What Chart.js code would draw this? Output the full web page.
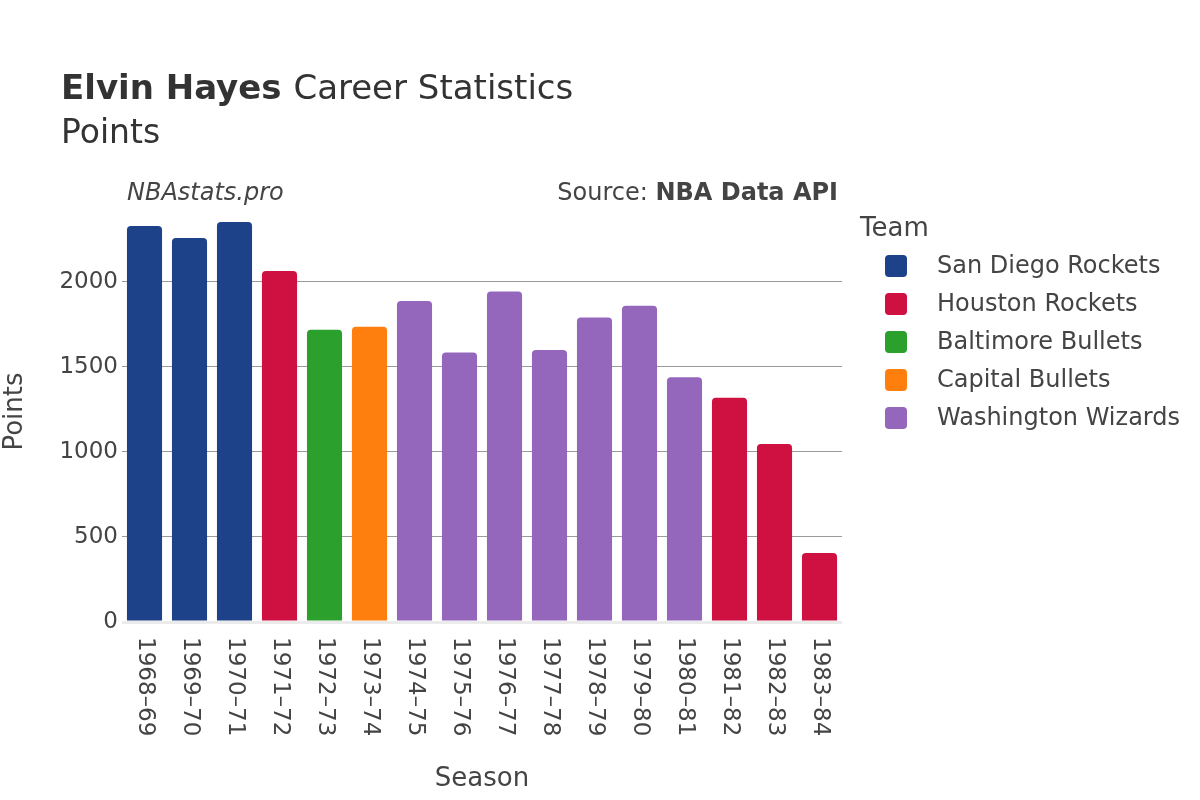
<!DOCTYPE html>
<html>
<head>
<meta charset="utf-8">
<script src="https://cdn.jsdelivr.net/npm/chart.js@4"></script>
<style>
  html, body { margin: 0; padding: 0; background: #fff; }
</style>
</head>
<body>
<canvas id="chart" width="1200" height="800"></canvas>
<script>
// season labels (x axis)
const seasons = ['1968–69', '1969–70', '1970–71', '1971–72', '1972–73', '1973–74', '1974–75', '1975–76',
                 '1976–77', '1977–78', '1978–79', '1979–80', '1980–81', '1981–82', '1982–83', '1983–84'];
// points per season
const points = [2327, 2256, 2350, 2063, 1717, 1735, 1887, 1584, 1942, 1598, 1789, 1859, 1439, 1318, 1046, 405];
// team for each season
const seasonTeams = ['San Diego Rockets', 'San Diego Rockets', 'San Diego Rockets', 'Houston Rockets',
                     'Baltimore Bullets', 'Capital Bullets', 'Washington Wizards', 'Washington Wizards',
                     'Washington Wizards', 'Washington Wizards', 'Washington Wizards', 'Washington Wizards',
                     'Washington Wizards', 'Houston Rockets', 'Houston Rockets', 'Houston Rockets'];
const teamNames = ['San Diego Rockets', 'Houston Rockets', 'Baltimore Bullets', 'Capital Bullets', 'Washington Wizards'];
const teamColors = ['#1d428a', '#ce1141', '#2ca02c', '#ff7f0e', '#9467bd'];
const yTicks = [0, 500, 1000, 1500, 2000];

const FONT = "'DejaVu Sans', sans-serif";
const TEXT = '#444';

const barColors = seasonTeams.map(t => teamColors[teamNames.indexOf(t)]);

function roundRect(ctx, x, y, w, h, r) {
  ctx.beginPath();
  ctx.moveTo(x + r, y);
  ctx.arcTo(x + w, y, x + w, y + h, r);
  ctx.arcTo(x + w, y + h, x, y + h, r);
  ctx.arcTo(x, y + h, x, y, r);
  ctx.arcTo(x, y, x + w, y, r);
  ctx.closePath();
}

// titles, x labels and legend drawn around the chart
const decor = {
  id: 'decor',
  afterDraw(chart) {
    const ctx = chart.ctx;
    const xs = chart.scales.x;
    ctx.save();
    ctx.fillStyle = '#333';
    ctx.textAlign = 'left';
    ctx.textBaseline = 'alphabetic';
    ctx.font = 'bold 34px ' + FONT;
    ctx.fillText('Elvin Hayes', 61, 99);
    const w = ctx.measureText('Elvin Hayes ').width;
    ctx.font = '34px ' + FONT;
    ctx.fillText('Career Statistics', 61 + w, 99);
    ctx.font = '33px ' + FONT;
    ctx.fillText('Points', 61, 143);

    ctx.fillStyle = TEXT;
    ctx.font = 'italic 24px ' + FONT;
    ctx.fillText('NBAstats.pro', 127, 200);
    ctx.textAlign = 'right';
    ctx.font = 'bold 24px ' + FONT;
    ctx.fillText('NBA Data API', 838, 200);
    const bw = ctx.measureText('NBA Data API').width;
    ctx.font = '24px ' + FONT;
    ctx.fillText('Source: ', 838 - bw, 200);

    // rotated season labels
    ctx.font = '23px ' + FONT;
    ctx.textAlign = 'left';
    ctx.textBaseline = 'middle';
    seasons.forEach((s, i) => {
      ctx.save();
      ctx.translate(xs.getPixelForValue(i), 637);
      ctx.rotate(Math.PI / 2);
      ctx.fillText(s, 0, 0);
      ctx.restore();
    });

    // legend
    ctx.font = '26px ' + FONT;
    ctx.textBaseline = 'alphabetic';
    ctx.fillText('Team', 860, 236);
    ctx.font = '24px ' + FONT;
    ctx.textBaseline = 'middle';
    teamNames.forEach((t, i) => {
      const cy = 266 + i * 38;
      ctx.fillStyle = teamColors[i];
      roundRect(ctx, 885, cy - 11, 22, 22, 4);
      ctx.fill();
      ctx.fillStyle = TEXT;
      ctx.fillText(t, 937, cy + 1);
    });
    ctx.restore();
  }
};

new Chart(document.getElementById('chart').getContext('2d'), {
  type: 'bar',
  data: {
    labels: seasons,
    datasets: [{
      label: 'Points',
      data: points,
      backgroundColor: barColors,
      borderRadius: { topLeft: 4, topRight: 4, bottomLeft: 0, bottomRight: 0 },
      borderSkipped: false,
      barPercentage: 0.78,
      categoryPercentage: 1
    }]
  },
  options: {
    responsive: false,
    devicePixelRatio: 1,
    animation: false,
    layout: { padding: { top: 201, right: 358, bottom: 0, left: 0 } },
    plugins: { legend: { display: false }, tooltip: { enabled: false } },
    scales: {
      x: {
        grid: { display: false },
        border: { display: false },
        ticks: { display: false },
        title: { display: true, text: 'Season', color: TEXT, font: { family: FONT, size: 26 }, padding: { top: 5, bottom: 5 } },
        afterFit(scale) { scale.height = 178; }
      },
      y: {
        min: 0,
        max: 2474,
        border: { display: false },
        grid: {
          drawTicks: false,
          color: ctx => ctx.tick && ctx.tick.value === 0 ? '#ebebeb' : '#9a9a9a',
          lineWidth: ctx => ctx.tick && ctx.tick.value === 0 ? 3 : 1
        },
        ticks: {
          color: TEXT,
          font: { family: FONT, size: 23 },
          padding: 4,
          callback: v => String(v)
        },
        afterBuildTicks(scale) { scale.ticks = yTicks.map(v => ({ value: v })); },
        title: { display: true, text: 'Points', color: TEXT, font: { family: FONT, size: 26 }, padding: 0 },
        afterFit(scale) { scale.width = 122; }
      }
    }
  },
  plugins: [decor]
});
</script>
</body>
</html>
